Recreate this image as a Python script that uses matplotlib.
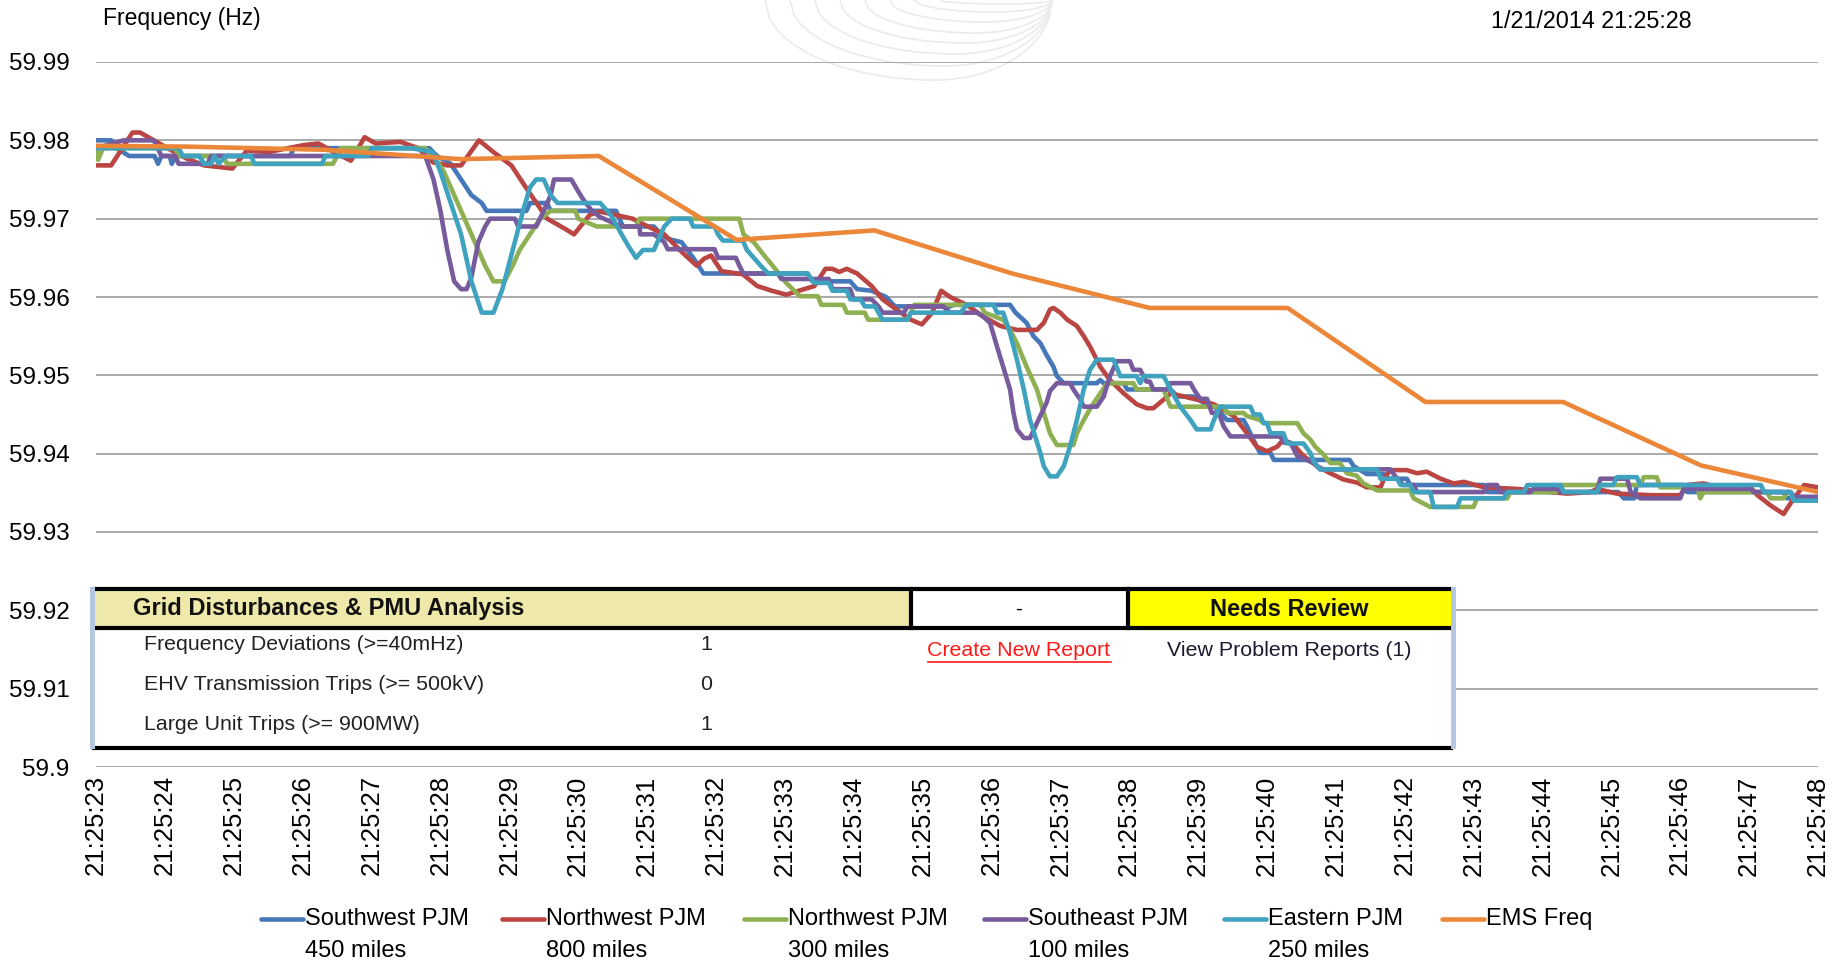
import numpy as np
import matplotlib.pyplot as plt
from matplotlib.lines import Line2D
from matplotlib.patches import Rectangle

plt.rcParams['font.family'] = ['Liberation Sans Narrow', 'Liberation Sans', 'DejaVu Sans']
ARIAL = ['Liberation Sans', 'DejaVu Sans']

# seconds after 21:25:23, frequency in Hz
southwest = [(0, 59.980), (0.22, 59.980), (0.3, 59.979), (0.48, 59.978), (0.85, 59.978), (0.9, 59.977),
             (0.95, 59.978), (1.07, 59.978), (1.1, 59.977), (1.16, 59.978), (2.82, 59.978), (2.87, 59.979),
             (4.84, 59.979), (4.95, 59.978), (5.15, 59.977), (5.3, 59.975), (5.45, 59.973), (5.6, 59.972),
             (5.67, 59.971), (6.25, 59.971), (6.3, 59.972), (6.55, 59.972), (6.6, 59.971), (7.55, 59.971),
             (7.6, 59.970), (7.65, 59.969), (8.1, 59.969), (8.2, 59.968), (8.31, 59.9674), (8.5, 59.967),
             (8.67, 59.965), (8.82, 59.963), (10.33, 59.963), (10.4, 59.962), (10.95, 59.962), (11.05, 59.961),
             (11.26, 59.9608), (11.47, 59.960), (11.6, 59.9588), (12.4, 59.9588), (12.45, 59.959), (13.27, 59.959),
             (13.35, 59.958), (13.51, 59.9567), (13.61, 59.955), (13.71, 59.9541), (13.8, 59.9526), (13.9, 59.9511),
             (13.95, 59.9499), (14.05, 59.949), (14.53, 59.949), (14.58, 59.9494), (14.63, 59.949), (14.92, 59.949),
             (14.97, 59.9482), (15.6, 59.9482), (15.7, 59.9473), (15.93, 59.9473), (16.08, 59.9465), (16.23, 59.9461),
             (16.42, 59.9443), (16.66, 59.9443), (16.71, 59.9435), (16.8, 59.9418), (16.9, 59.9401), (17.05, 59.9401),
             (17.1, 59.9392), (18.2, 59.9392), (18.26, 59.9384), (18.45, 59.9374), (18.7, 59.9374), (18.75, 59.9368),
             (19.03, 59.9368), (19.08, 59.936), (20.15, 59.936), (20.2, 59.9351), (22.1, 59.9351), (22.18, 59.9343),
             (22.33, 59.9343), (22.37, 59.936), (23.05, 59.936), (23.1, 59.9351), (24.5, 59.9351), (24.55, 59.9343),
             (25.0, 59.9343)]

northwest_800 = [(0, 59.9768), (0.22, 59.9768), (0.53, 59.981), (0.64, 59.981), (0.84, 59.980), (1.1, 59.9787),
                 (1.31, 59.9777), (1.57, 59.9768), (1.98, 59.9764), (2.19, 59.9787), (2.5, 59.9785), (3.02, 59.9794),
                 (3.23, 59.9796), (3.54, 59.9781), (3.7, 59.9774), (3.9, 59.9804), (4.06, 59.9796), (4.42, 59.9798),
                 (4.68, 59.979), (4.89, 59.9772), (5.1, 59.9768), (5.3, 59.9768), (5.56, 59.980), (5.77, 59.9785),
                 (6.03, 59.9768), (6.24, 59.974), (6.55, 59.970), (6.81, 59.9687), (6.94, 59.968), (7.17, 59.9705),
                 (7.32, 59.9709), (7.79, 59.970), (7.99, 59.9691), (8.25, 59.968), (8.51, 59.9657), (8.72, 59.964),
                 (8.83, 59.9649), (8.93, 59.9653), (9.08, 59.9633), (9.39, 59.9629), (9.6, 59.9614), (9.81, 59.9608),
                 (10.02, 59.9603), (10.28, 59.961), (10.43, 59.9614), (10.59, 59.9636), (10.69, 59.9636), (10.79, 59.9632),
                 (10.9, 59.9636), (11.05, 59.963), (11.26, 59.9614), (11.42, 59.9597), (11.62, 59.9584), (11.83, 59.9571),
                 (11.99, 59.9565), (12.14, 59.958), (12.27, 59.9608), (12.4, 59.960), (12.64, 59.959), (12.88, 59.9575),
                 (13.13, 59.9563), (13.37, 59.9558), (13.66, 59.9558), (13.76, 59.9567), (13.85, 59.9584), (13.9, 59.9586),
                 (14.0, 59.958), (14.1, 59.9571), (14.24, 59.9563), (14.34, 59.955), (14.43, 59.9537), (14.58, 59.9511),
                 (14.72, 59.9494), (14.92, 59.9477), (15.11, 59.9463), (15.26, 59.9458), (15.35, 59.9458), (15.5, 59.9469),
                 (15.6, 59.9477), (15.79, 59.9473), (16.08, 59.9467), (16.23, 59.9463), (16.52, 59.9448), (16.71, 59.9426),
                 (16.85, 59.9409), (17.0, 59.9403), (17.15, 59.9409), (17.24, 59.9418), (17.39, 59.9411), (17.53, 59.9397),
                 (17.73, 59.9384), (17.92, 59.9375), (18.11, 59.9367), (18.31, 59.9363), (18.45, 59.9357), (18.65, 59.9357),
                 (18.7, 59.9368), (18.79, 59.9379), (19.03, 59.9379), (19.18, 59.9375), (19.32, 59.9377), (19.52, 59.9368),
                 (19.71, 59.9362), (19.86, 59.9364), (20.15, 59.9357), (20.63, 59.9355), (21.12, 59.9351), (21.36, 59.9349),
                 (21.7, 59.9351), (21.79, 59.9355), (22.08, 59.9349), (22.57, 59.9347), (23.0, 59.9347), (23.1, 59.936),
                 (23.34, 59.9362), (23.54, 59.9357), (24.02, 59.9357), (24.12, 59.9347), (24.31, 59.9334), (24.5, 59.9323),
                 (24.65, 59.9343), (24.8, 59.936), (25.0, 59.9357)]

northwest_300 = [(0, 59.979), (0.03, 59.9775), (0.1, 59.979), (1.15, 59.979), (1.2, 59.978), (1.85, 59.978),
                 (1.9, 59.977), (3.44, 59.977), (3.5, 59.978), (3.55, 59.979), (4.78, 59.979), (4.9, 59.978),
                 (5.05, 59.976), (5.2, 59.973), (5.35, 59.970), (5.5, 59.967), (5.65, 59.964), (5.77, 59.962),
                 (5.93, 59.962), (6.05, 59.964), (6.15, 59.966), (6.3, 59.968), (6.45, 59.970), (6.6, 59.971),
                 (6.96, 59.971), (7.0, 59.970), (7.27, 59.969), (7.84, 59.969), (7.89, 59.970), (9.34, 59.970),
                 (9.4, 59.968), (9.55, 59.967), (9.7, 59.9653), (9.86, 59.9636), (10.02, 59.9618), (10.22, 59.9601),
                 (10.48, 59.9601), (10.53, 59.959), (10.85, 59.959), (10.9, 59.958), (11.16, 59.958), (11.21, 59.9571),
                 (11.78, 59.9571), (11.83, 59.958), (11.88, 59.959), (12.84, 59.959), (12.9, 59.958), (13.17, 59.9571),
                 (13.27, 59.9558), (13.37, 59.9541), (13.51, 59.9511), (13.66, 59.9482), (13.76, 59.9452), (13.85, 59.9426),
                 (13.95, 59.9411), (14.19, 59.9411), (14.24, 59.9426), (14.34, 59.9443), (14.45, 59.946), (14.58, 59.9477),
                 (14.68, 59.949), (15.06, 59.949), (15.11, 59.9482), (15.5, 59.9482), (15.55, 59.9471), (15.6, 59.946),
                 (16.37, 59.946), (16.42, 59.9452), (16.66, 59.9452), (16.71, 59.9448), (16.9, 59.9443), (16.95, 59.9439),
                 (17.44, 59.9439), (17.53, 59.9426), (17.63, 59.9418), (17.7, 59.9409), (17.82, 59.9399), (17.92, 59.9388),
                 (18.06, 59.9388), (18.16, 59.9375), (18.3, 59.9372), (18.4, 59.9362), (18.6, 59.9353), (19.08, 59.9353),
                 (19.13, 59.9343), (19.37, 59.9332), (20.0, 59.9332), (20.05, 59.9343), (20.49, 59.9343), (20.53, 59.9351),
                 (21.21, 59.9351), (21.26, 59.936), (22.42, 59.936), (22.47, 59.937), (22.66, 59.937), (22.71, 59.9357),
                 (23.25, 59.9357), (23.29, 59.9343), (23.34, 59.9351), (24.26, 59.9351), (24.31, 59.9343), (24.5, 59.9343),
                 (24.55, 59.9351), (24.6, 59.9351), (24.65, 59.9343), (25.0, 59.9343)]

southeast = [(0, 59.979), (0.4, 59.980), (0.84, 59.980), (0.95, 59.978), (1.15, 59.978), (1.2, 59.977),
             (1.62, 59.977), (1.67, 59.978), (4.78, 59.978), (4.9, 59.975), (5.0, 59.971), (5.1, 59.966),
             (5.2, 59.962), (5.3, 59.961), (5.38, 59.961), (5.45, 59.9625), (5.55, 59.967), (5.65, 59.969),
             (5.72, 59.970), (6.08, 59.970), (6.13, 59.969), (6.39, 59.969), (6.5, 59.971), (6.6, 59.973),
             (6.65, 59.975), (6.9, 59.975), (7.0, 59.9735), (7.07, 59.9725), (7.2, 59.971), (7.32, 59.9702),
             (7.63, 59.969), (7.89, 59.969), (7.9, 59.968), (8.1, 59.968), (8.25, 59.967), (8.3, 59.9661),
             (8.98, 59.9661), (9.03, 59.965), (9.29, 59.965), (9.34, 59.964), (9.4, 59.963), (9.9, 59.963),
             (9.95, 59.9623), (10.64, 59.9623), (10.69, 59.961), (10.95, 59.961), (11.0, 59.9597), (11.26, 59.9597),
             (11.36, 59.9588), (11.42, 59.958), (11.73, 59.958), (11.78, 59.9588), (12.3, 59.9588), (12.4, 59.958),
             (12.79, 59.958), (12.88, 59.9575), (12.98, 59.9567), (13.08, 59.9537), (13.17, 59.9511), (13.27, 59.9482),
             (13.32, 59.9452), (13.37, 59.9431), (13.47, 59.942), (13.56, 59.942), (13.66, 59.9439), (13.8, 59.9465),
             (13.85, 59.948), (13.95, 59.949), (14.14, 59.949), (14.19, 59.9482), (14.29, 59.9469), (14.34, 59.946),
             (14.53, 59.946), (14.63, 59.9473), (14.72, 59.9499), (14.82, 59.9518), (15.01, 59.9518), (15.06, 59.9507),
             (15.16, 59.9507), (15.25, 59.9492), (15.3, 59.9492), (15.35, 59.9482), (15.55, 59.9482), (15.6, 59.949),
             (15.89, 59.949), (15.94, 59.9482), (16.03, 59.947), (16.13, 59.947), (16.2, 59.9452), (16.3, 59.9452),
             (16.37, 59.9435), (16.47, 59.9422), (17.19, 59.9422), (17.25, 59.9414), (17.34, 59.9414), (17.44, 59.9397),
             (17.68, 59.9388), (17.77, 59.938), (18.79, 59.938), (18.89, 59.9368), (18.98, 59.936), (19.13, 59.936),
             (19.18, 59.9351), (20.15, 59.9351), (20.2, 59.936), (20.34, 59.936), (20.39, 59.9351), (20.82, 59.9351),
             (20.87, 59.9355), (21.21, 59.9355), (21.26, 59.9351), (21.79, 59.9351), (21.84, 59.9368), (22.23, 59.9368),
             (22.28, 59.9351), (22.42, 59.9343), (23.0, 59.9343), (23.05, 59.9355), (24.02, 59.9355), (24.07, 59.9351),
             (24.6, 59.9351), (24.65, 59.9345), (25.0, 59.9345)]

eastern = [(0, 59.979), (1.2, 59.979), (1.26, 59.978), (1.5, 59.978), (1.57, 59.977), (1.67, 59.977),
           (1.72, 59.978), (1.78, 59.977), (1.88, 59.978), (2.25, 59.978), (2.3, 59.977), (3.28, 59.977),
           (3.33, 59.978), (3.95, 59.978), (4.0, 59.979), (4.58, 59.979), (4.89, 59.9785), (5.0, 59.976),
           (5.15, 59.972), (5.3, 59.968), (5.45, 59.962), (5.6, 59.958), (5.77, 59.958), (5.9, 59.961),
           (6.05, 59.966), (6.2, 59.971), (6.3, 59.974), (6.39, 59.975), (6.5, 59.975), (6.6, 59.973),
           (6.7, 59.972), (7.32, 59.972), (7.48, 59.9704), (7.63, 59.968), (7.73, 59.9665), (7.84, 59.965),
           (7.94, 59.966), (8.1, 59.966), (8.15, 59.967), (8.25, 59.969), (8.36, 59.970), (8.62, 59.970),
           (8.67, 59.969), (8.98, 59.969), (9.03, 59.968), (9.1, 59.9672), (9.39, 59.9672), (9.45, 59.966),
           (9.55, 59.965), (9.65, 59.964), (9.76, 59.963), (10.33, 59.963), (10.43, 59.9618), (10.64, 59.9618),
           (10.69, 59.9608), (10.9, 59.9608), (10.95, 59.9597), (11.1, 59.9597), (11.16, 59.9588), (11.31, 59.9588),
           (11.36, 59.958), (11.42, 59.9571), (11.78, 59.9571), (11.83, 59.958), (12.55, 59.958), (12.64, 59.959),
           (13.03, 59.959), (13.08, 59.958), (13.17, 59.958), (13.27, 59.9554), (13.37, 59.952), (13.47, 59.9482),
           (13.56, 59.9443), (13.71, 59.9401), (13.76, 59.9384), (13.85, 59.9371), (13.95, 59.9371), (14.05, 59.9384),
           (14.14, 59.9409), (14.24, 59.9443), (14.34, 59.9482), (14.43, 59.9507), (14.53, 59.952), (14.77, 59.952),
           (14.82, 59.951), (14.87, 59.9499), (15.11, 59.9499), (15.16, 59.949), (15.21, 59.9499), (15.5, 59.9499),
           (15.6, 59.9482), (15.74, 59.946), (15.89, 59.9443), (15.98, 59.9431), (16.18, 59.9431), (16.23, 59.9443),
           (16.32, 59.946), (16.76, 59.946), (16.81, 59.945), (16.9, 59.945), (16.95, 59.9439), (17.0, 59.9439),
           (17.05, 59.9426), (17.24, 59.9426), (17.29, 59.9413), (17.53, 59.9413), (17.63, 59.9401), (17.68, 59.939),
           (17.77, 59.938), (18.6, 59.938), (18.65, 59.9368), (18.89, 59.9368), (18.94, 59.936), (19.08, 59.936),
           (19.13, 59.9351), (19.37, 59.9351), (19.42, 59.9332), (19.76, 59.9332), (19.81, 59.9343), (20.44, 59.9343),
           (20.49, 59.9351), (20.73, 59.9351), (20.78, 59.936), (21.26, 59.936), (21.31, 59.9351), (21.79, 59.9351),
           (21.84, 59.936), (22.03, 59.936), (22.08, 59.937), (22.37, 59.937), (22.42, 59.936), (24.17, 59.936),
           (24.22, 59.9351), (24.6, 59.9351), (24.65, 59.934), (25.0, 59.934)]

ems_freq = [(0, 59.9793), (1.3, 59.9792), (3.3, 59.9788), (5.3, 59.9776), (7.3, 59.978), (9.3, 59.9673),
            (11.3, 59.9685), (13.3, 59.963), (15.3, 59.9586), (17.3, 59.9586), (19.3, 59.9466), (21.3, 59.9466),
            (23.3, 59.9385), (25.0, 59.9351)]

series_names = ['Southwest PJM', 'Northwest PJM', 'Northwest PJM', 'Southeast PJM', 'Eastern PJM', 'EMS Freq']
series_dist = ['450 miles', '800 miles', '300 miles', '100 miles', '250 miles', '']
series_data = [southwest, northwest_800, northwest_300, southeast, eastern, ems_freq]
colors = ['#4677B8', '#BA4542', '#8FB052', '#775B9C', '#3FA3BF', '#EC873A']

x_labels = ['21:25:%02d' % s for s in range(23, 49)]
y_ticks = [59.9, 59.91, 59.92, 59.93, 59.94, 59.95, 59.96, 59.97, 59.98, 59.99]
y_labels = ['59.9', '59.91', '59.92', '59.93', '59.94', '59.95', '59.96', '59.97', '59.98', '59.99']

table_rows = ['Frequency Deviations (>=40mHz)', 'EHV Transmission Trips (>= 500kV)', 'Large Unit Trips (>= 900MW)']
table_counts = ['1', '0', '1']

W, H = 1841, 969


def fx(x):
    return x / W


def fy(y):
    return 1 - y / H


fig = plt.figure(figsize=(W / 100, H / 100), dpi=100)

# faint logo watermark at the top
for k in range(8):
    xl, xb, yb = 765 + 25 * k, 935 + 10 * k, [80, 66, 54, 43, 33, 22, 12, 4][k]
    xs1 = np.linspace(xl, xb, 40)
    ys1 = yb * np.sqrt(np.clip(1 - ((xs1 - xb) / (xb - xl)) ** 2, 0, 1))
    xs2 = np.linspace(xb, 1052, 40)
    ys2 = yb * np.sqrt(np.clip(1 - ((xs2 - xb) / (1052 - xb)) ** 2, 0, 1))
    xs = np.concatenate([xs1, xs2])
    ys = np.concatenate([ys1, ys2])
    fig.add_artist(Line2D(fx(xs), fy(ys), color='#ebebeb', lw=1.2, zorder=-1))

ax = fig.add_axes([fx(96), fy(767), (1818 - 96) / W, (767 - 62) / H])
ax.patch.set_alpha(0)

for pts, c in zip(series_data, colors):
    t, v = zip(*pts)
    ax.plot(t, v, color=c, lw=3.3, solid_joinstyle='round', solid_capstyle='round')

ax.set_xlim(0, 25)
ax.set_ylim(59.9, 59.99)
ax.set_xticks(range(len(x_labels)), x_labels, rotation=90)
ax.set_yticks(y_ticks, y_labels)
ax.grid(axis='y', color='#a3a3a3', lw=1.3)
ax.set_axisbelow(True)
for s in ax.spines.values():
    s.set_visible(False)
ax.tick_params(axis='y', length=0, labelsize=17.5, pad=19)
ax.tick_params(axis='x', length=0, labelsize=18.5, pad=6)

fig.text(fx(103), fy(19), 'Frequency (Hz)', fontsize=16.5, va='center', ha='left')
fig.text(fx(1491), fy(21), '1/21/2014 21:25:28', fontsize=16.8, va='center', ha='left')

# summary table over the lower part of the plot
def rect(x0, y0, x1, y1, fc, z=2):
    fig.add_artist(Rectangle((fx(x0), fy(y1)), fx(x1) - fx(x0), fy(y0) - fy(y1),
                             transform=fig.transFigure, facecolor=fc, edgecolor='none', zorder=z))


def hline(x0, x1, y, c='black', lw=3.0):
    fig.add_artist(Line2D([fx(x0), fx(x1)], [fy(y), fy(y)], color=c, lw=lw, zorder=4))


def vline(x, y0, y1, c='black', lw=3.0):
    fig.add_artist(Line2D([fx(x), fx(x)], [fy(y0), fy(y1)], color=c, lw=lw, zorder=4))


rect(94, 589, 1451, 748, 'white')
rect(94, 589, 911, 628, '#EEE8AA')
rect(1128, 589, 1451, 628, '#FFFF00')
hline(94, 1451, 589)
hline(94, 1451, 628)
hline(94, 1451, 748)
vline(911, 589, 628)
vline(1128, 589, 628)
rect(90, 587, 95, 749, '#B4C7E0', z=5)
rect(1451, 587, 1456, 749, '#B4C7E0', z=5)

fig.text(fx(133), fy(609), 'Grid Disturbances & PMU Analysis', family=ARIAL, fontsize=17,
         fontweight='bold', va='center', ha='left', color='#111111')
fig.text(fx(1019), fy(609), '-', family=ARIAL, fontsize=15, va='center', ha='center')
fig.text(fx(1289), fy(609), 'Needs Review', family=ARIAL, fontsize=17, fontweight='bold',
         va='center', ha='center', color='#111111')
for i, (lab, cnt) in enumerate(zip(table_rows, table_counts)):
    yy = 645 + 39.5 * i
    fig.text(fx(144), fy(yy), lab, family=ARIAL, fontsize=15.4, va='center', ha='left', color='#222222')
    fig.text(fx(706), fy(yy), cnt, family=ARIAL, fontsize=15.4, va='center', ha='center', color='#222222')
fig.text(fx(1019), fy(650), 'Create New Report', family=ARIAL, fontsize=15.4, va='center', ha='center',
         color='#FF1A1A')
hline(928, 1111, 662, c='#FF1A1A', lw=1.2)
fig.text(fx(1289), fy(650), 'View Problem Reports (1)', family=ARIAL, fontsize=15.4, va='center',
         ha='center', color='#1a1a2e')

# legend along the bottom
leg_x = [261, 502, 744, 984, 1224, 1442]
for x0, name, dist, c in zip(leg_x, series_names, series_dist, colors):
    fig.add_artist(Line2D([fx(x0), fx(x0 + 42)], [fy(919), fy(919)], color=c, lw=3.3,
                          solid_capstyle='round'))
    fig.text(fx(x0 + 44), fy(919), name, fontsize=17, va='center', ha='left')
    if dist:
        fig.text(fx(x0 + 44), fy(951), dist, fontsize=17, va='center', ha='left')

fig.savefig('out.png', dpi=100)
